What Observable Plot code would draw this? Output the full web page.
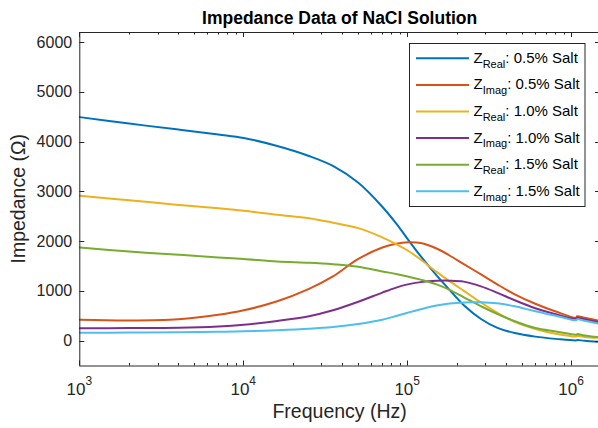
<!DOCTYPE html>
<html>
<head>
<meta charset="utf-8">
<script src="https://cdn.jsdelivr.net/npm/d3@7"></script>
<script src="https://cdn.jsdelivr.net/npm/@observablehq/plot@0.6"></script>
<style>
html, body { margin: 0; padding: 0; background: #fff; overflow: hidden; }
svg { display: block; }
</style>
</head>
<body>
<div id="chart"></div>
<script>
// ---- Data ----
const freq = [1e3, 2e3, 4e3, 7e3, 1e4, 1.6e4, 2.5e4, 3.5e4, 5e4, 7e4, 8.5e4, 1e5, 1.2e5, 1.5e5, 1.8e5, 2.2e5, 2.8e5, 3.5e5, 4.5e5, 6e5, 8e5, 1.07e6, 1.08e6, 1.2e6, 1.46e6];
const zReal05 = [4500, 4370, 4250, 4150, 4080, 3920, 3720, 3520, 3180, 2700, 2365, 2050, 1705, 1320, 1030, 720, 445, 272, 162, 90, 45, 15, 22, 5, -15];
const zImag05 = [430, 415, 440, 530, 620, 800, 1050, 1300, 1650, 1880, 1955, 1985, 1970, 1860, 1720, 1545, 1340, 1145, 940, 750, 595, 470, 500, 470, 410];
const zReal10 = [2920, 2830, 2735, 2670, 2620, 2540, 2470, 2380, 2270, 2085, 1950, 1820, 1640, 1390, 1205, 1010, 775, 575, 385, 245, 150, 95, 105, 85, 65];
const zImag10 = [260, 262, 268, 295, 330, 405, 500, 620, 790, 975, 1075, 1140, 1185, 1212, 1215, 1195, 1100, 975, 820, 660, 540, 450, 470, 440, 380];
const zReal15 = [1880, 1800, 1735, 1680, 1650, 1600, 1575, 1545, 1495, 1400, 1350, 1300, 1235, 1140, 1030, 880, 700, 550, 400, 265, 195, 130, 140, 115, 80];
const zImag15 = [168, 172, 180, 188, 196, 220, 250, 285, 345, 430, 505, 570, 640, 715, 755, 778, 780, 760, 700, 600, 510, 420, 440, 410, 350];

const seriesPart = ["Real", "Imag", "Real", "Imag", "Real", "Imag"];
const seriesSalt = ["0.5% Salt", "0.5% Salt", "1.0% Salt", "1.0% Salt", "1.5% Salt", "1.5% Salt"];
const seriesValues = [zReal05, zImag05, zReal10, zImag10, zReal15, zImag15];
const seriesColors = ["#0072BD", "#D95319", "#EDB120", "#7E2F8E", "#77AC30", "#4DBEEE"];

const xTicks = [1e3, 1e4, 1e5, 1e6];
const yTicks = [0, 1000, 2000, 3000, 4000, 5000, 6000];
const xDomain = [1e3, 1.5e6];
const yDomain = [-500, 6200];

const titleText = "Impedance Data of NaCl Solution";
const xLabel = "Frequency (Hz)";
const yLabel = "Impedance (\u03A9)";

// ---- Build table ----
const seriesKeys = seriesPart.map((p, i) => `Z${p}: ${seriesSalt[i]}`);
const rows = [];
seriesValues.forEach((vals, i) => {
  vals.forEach((v, j) => rows.push({series: seriesKeys[i], f: freq[j], v}));
});

const FONT = "'Liberation Sans', Arial, Helvetica, sans-serif";
const AX = "#262626";

const plot = Plot.plot({
  width: 598,
  height: 428,
  marginLeft: 79.3,
  marginRight: -2,
  marginTop: 32,
  marginBottom: 62.5,
  style: {fontFamily: FONT, fontSize: "16px", color: AX, background: "#fff"},
  x: {type: "log", domain: xDomain, axis: null},
  y: {domain: yDomain, axis: null},
  color: {domain: seriesKeys, range: seriesColors},
  marks: [
    Plot.line(rows, {x: "f", y: "v", z: "series", stroke: "series", strokeWidth: 2, curve: "catmull-rom"}),
    Plot.frame({stroke: AX, strokeWidth: 1}),
    Plot.axisY(yTicks, {tickSize: 0, tickPadding: 7.6, tickFormat: d3.format("d"), fontSize: 16, fill: AX, label: null})
  ]
});

document.getElementById("chart").appendChild(plot);

// ---- Extra decoration drawn from the plot's own scales ----
const xs = plot.scale("x"), ys = plot.scale("y");
const [xL, xR] = xs.range;
const [yB, yT] = ys.range;
const svg = d3.select(plot);

const tg = svg.append("g").attr("stroke", AX).attr("stroke-width", 1).attr("fill", "none");
// y ticks (inward), left and right
yTicks.forEach(v => {
  const y = Math.round(ys.apply(v)) + 0.5;
  tg.append("line").attr("x1", xL).attr("x2", xL + 5).attr("y1", y).attr("y2", y);
  tg.append("line").attr("x1", xR - 5).attr("x2", xR).attr("y1", y).attr("y2", y);
});
// x ticks (major + minor), bottom and top
for (let d = 3; d <= 6; d++) {
  for (let k = 1; k <= 9; k++) {
    const f = k * Math.pow(10, d);
    if (f < xDomain[0] || f > xDomain[1]) continue;
    const x = Math.round(xs.apply(f)) + 0.5;
    const len = k === 1 ? 5 : 2.5;
    tg.append("line").attr("x1", x).attr("x2", x).attr("y1", yB).attr("y2", yB - len);
    tg.append("line").attr("x1", x).attr("x2", x).attr("y1", yT).attr("y2", yT + len);
  }
}

// x tick labels 10^n
xTicks.forEach(v => {
  const t = svg.append("text")
    .attr("x", xs.apply(v)).attr("y", 395)
    .attr("text-anchor", "middle")
    .attr("font-family", FONT).attr("font-size", 17).attr("fill", AX);
  t.append("tspan").text("10");
  t.append("tspan").attr("font-size", 12).attr("dy", -9.7).text(String(Math.round(Math.log10(v))));
});

// title
svg.append("text")
  .attr("x", (xL + xR) / 2).attr("y", 24)
  .attr("text-anchor", "middle")
  .attr("font-family", FONT).attr("font-size", 17.5).attr("font-weight", "bold").attr("fill", "#000")
  .text(titleText);

// axis labels
svg.append("text")
  .attr("x", (xL + xR) / 2).attr("y", 418)
  .attr("text-anchor", "middle")
  .attr("font-family", FONT).attr("font-size", 19.5).attr("fill", AX)
  .text(xLabel);
svg.append("text")
  .attr("transform", `translate(25,${(yT + yB) / 2}) rotate(-90)`)
  .attr("text-anchor", "middle")
  .attr("font-family", FONT).attr("font-size", 19.5).attr("fill", AX)
  .text(yLabel);

// legend
const lg = svg.append("g");
lg.append("rect")
  .attr("x", 409.5).attr("y", 43.5).attr("width", 175.5).attr("height", 163)
  .attr("fill", "#fff").attr("stroke", AX).attr("stroke-width", 1);
seriesKeys.forEach((key, i) => {
  const cy = 58.3 + i * 26.6;
  lg.append("line")
    .attr("x1", 416).attr("x2", 469).attr("y1", cy).attr("y2", cy)
    .attr("stroke", seriesColors[i]).attr("stroke-width", 2);
  const t = lg.append("text")
    .attr("x", 473.5).attr("y", cy + 4.5)
    .attr("text-anchor", "start")
    .attr("font-family", FONT).attr("font-size", 15).attr("fill", "#000");
  t.append("tspan").text("Z");
  t.append("tspan").attr("font-size", 11).attr("dy", 4.8).text(seriesPart[i]);
  t.append("tspan").attr("dy", -4.8).text(": " + seriesSalt[i]);
});
</script>
</body>
</html>
